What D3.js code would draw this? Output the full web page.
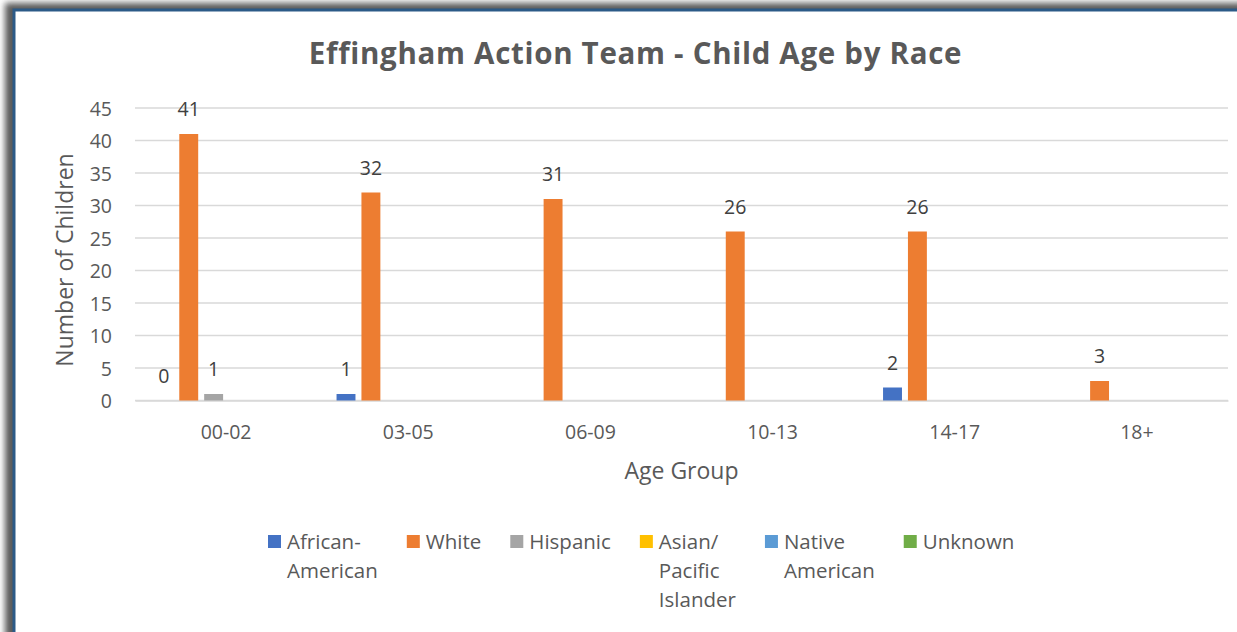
<!DOCTYPE html>
<html>
<head>
  <style>
    body {
      margin: 0;
      background: white;
    }
    text {
      font-family: "Open Sans", sans-serif;
    }
  </style>
</head>
<body>
  <script src="https://d3js.org/d3.v7.min.js"></script>
  <script>
    var width = 1237, height = 632;

    var ageGroups = ["00-02", "03-05", "06-09", "10-13", "14-17", "18+"];
    var races = ["African-American", "White", "Hispanic", "Asian/Pacific Islander", "Native American", "Unknown"];
    // legend labels wrapped the way the original legend wraps them
    var raceLines = [["African-", "American"], ["White"], ["Hispanic"], ["Asian/", "Pacific", "Islander"], ["Native", "American"], ["Unknown"]];
    var raceColors = ["#4472C4", "#ED7D31", "#A5A5A5", "#FFC000", "#5B9BD5", "#70AD47"];

    // null = empty cell (no bar, no label)
    var africanAmerican = [0, 1, null, null, 2, null];
    var white = [41, 32, 31, 26, 26, 3];
    var hispanic = [1, null, null, null, null, null];
    var asian = [null, null, null, null, null, null];
    var nativeAmerican = [null, null, null, null, null, null];
    var unknown = [null, null, null, null, null, null];
    var seriesValues = [africanAmerican, white, hispanic, asian, nativeAmerican, unknown];

    var yTicks = [0, 5, 10, 15, 20, 25, 30, 35, 40, 45];

    var svg = d3.select("body").append("svg")
        .attr("width", width)
        .attr("height", height);

    // frame with its shadow
    var defs = svg.append("defs");
    defs.append("filter").attr("id", "shadow")
        .attr("x", "-5%").attr("y", "-5%").attr("width", "110%").attr("height", "110%")
      .append("feGaussianBlur").attr("stdDeviation", 3);

    svg.append("rect")
        .attr("x", 5).attr("y", 3)
        .attr("width", 1300).attr("height", 700)
        .attr("fill", "#5a5a5a")
        .attr("filter", "url(#shadow)");
    svg.append("rect")
        .attr("x", 14).attr("y", 10)
        .attr("width", 1300).attr("height", 700)
        .attr("fill", "white")
        .attr("stroke", "#2C5A87")
        .attr("stroke-width", 3);

    var plot = {left: 135, right: 1228, top: 108, bottom: 400.5};

    var x0 = d3.scaleBand()
        .domain(ageGroups)
        .range([plot.left, plot.right])
        .paddingInner(0.18)
        .paddingOuter(0.09);

    var x1 = d3.scaleBand()
        .domain(races)
        .range([0, x0.bandwidth()])
        .paddingInner(0.24)
        .paddingOuter(0.12);

    var y = d3.scaleLinear()
        .domain([0, 45])
        .range([plot.bottom, plot.top]);

    // gridlines
    svg.append("g").selectAll("line")
        .data(yTicks)
      .enter().append("line")
        .attr("x1", plot.left)
        .attr("x2", plot.right)
        .attr("y1", d => y(d))
        .attr("y2", d => y(d))
        .attr("stroke", "#D9D9D9")
        .attr("stroke-width", 1.5);

    // y axis
    var yAxis = svg.append("g")
        .attr("transform", "translate(" + (plot.left - 23) + ",0)")
        .call(d3.axisLeft(y).tickValues(yTicks).tickSize(0).tickPadding(0));
    yAxis.select(".domain").remove();
    yAxis.selectAll("text")
        .attr("fill", "#595959")
        .style("font-size", "19.5px")
        .attr("dy", "0.36em");

    // x axis
    var xAxis = svg.append("g")
        .attr("transform", "translate(0," + plot.bottom + ")")
        .call(d3.axisBottom(x0).tickSize(0).tickPadding(0));
    xAxis.select(".domain")
        .attr("stroke", "#D9D9D9")
        .attr("stroke-width", 1.5);
    xAxis.selectAll("text")
        .attr("fill", "#595959")
        .style("font-size", "19.5px")
        .attr("y", 38)
        .attr("dy", null);

    // bars
    var cells = [];
    seriesValues.forEach((vals, s) => {
      vals.forEach((v, i) => {
        if (v !== null) cells.push({group: ageGroups[i], race: races[s], color: raceColors[s], value: v});
      });
    });

    var bars = svg.append("g");
    bars.selectAll("rect")
        .data(cells)
      .enter().append("rect")
        .attr("x", d => x0(d.group) + x1(d.race))
        .attr("y", d => y(d.value))
        .attr("width", x1.bandwidth())
        .attr("height", d => y(0) - y(d.value))
        .attr("fill", d => d.color);

    bars.selectAll("text")
        .data(cells)
      .enter().append("text")
        .attr("x", d => x0(d.group) + x1(d.race) + x1.bandwidth() / 2)
        .attr("y", d => y(d.value) - 18)
        .attr("text-anchor", "middle")
        .attr("fill", "#404040")
        .style("font-size", "19.5px")
        .text(d => d.value);

    // title
    svg.append("text")
        .attr("x", 635.5)
        .attr("y", 64)
        .attr("text-anchor", "middle")
        .attr("fill", "#595959")
        .style("font-size", "29.5px")
        .style("font-weight", "bold")
        .style("letter-spacing", "0.7px")
        .text("Effingham Action Team - Child Age by Race");

    // axis titles
    svg.append("text")
        .attr("transform", "translate(73,260) rotate(-90)")
        .attr("text-anchor", "middle")
        .attr("fill", "#595959")
        .style("font-size", "23px")
        .text("Number of Children");

    svg.append("text")
        .attr("x", (plot.left + plot.right) / 2)
        .attr("y", 479)
        .attr("text-anchor", "middle")
        .attr("fill", "#595959")
        .style("font-size", "23px")
        .text("Age Group");

    // legend
    var legend = svg.append("g").attr("transform", "translate(268,542)");
    var lx = 0;
    raceLines.forEach((lines, s) => {
      var item = legend.append("g").attr("transform", "translate(" + lx + ",0)");
      item.append("rect")
          .attr("x", 0).attr("y", -7)
          .attr("width", 13).attr("height", 13)
          .attr("fill", raceColors[s]);
      var w = 0;
      lines.forEach((line, k) => {
        var t = item.append("text")
            .attr("x", 19)
            .attr("y", k * 29 + 7)
            .attr("fill", "#595959")
            .style("font-size", "20.5px")
            .text(line);
        w = Math.max(w, t.node().getComputedTextLength());
      });
      lx += 19 + w + 29;
    });
  </script>
</body>
</html>
